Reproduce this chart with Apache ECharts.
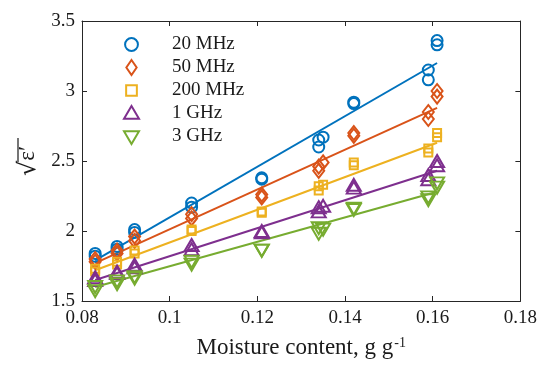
<!DOCTYPE html>
<html>
<head>
<meta charset="utf-8">
<script src="https://cdn.jsdelivr.net/npm/echarts@6/dist/echarts.min.js"></script>
<style>html,body{margin:0;padding:0;background:#fff;}#c{width:540px;height:365px;}</style>
</head>
<body>
<div id="c"></div>
<script>
// Moisture content (g g^-1) for each measured sample
var moisture = [0.083,0.083,0.088,0.088,0.092,0.092,0.105,0.105,0.121,0.121,0.134,0.134,0.135,0.142,0.142,0.159,0.159,0.161,0.161];
// sqrt(eps') values per frequency
var v20MHz  = [1.84,1.82,1.89,1.87,2.01,1.99,2.20,2.17,2.38,2.37,2.60,2.65,2.67,2.92,2.91,3.15,3.08,3.36,3.33];
var v50MHz  = [1.80,1.78,1.86,1.84,1.96,1.93,2.12,2.09,2.26,2.24,2.43,2.46,2.49,2.70,2.68,2.85,2.80,3.00,2.96];
var v200MHz = [1.73,1.71,1.78,1.76,1.86,1.84,2.01,2.00,2.14,2.13,2.32,2.29,2.33,2.49,2.47,2.59,2.56,2.70,2.67];
var v1GHz   = [1.67,1.65,1.71,1.70,1.76,1.74,1.90,1.87,2.00,1.99,2.17,2.14,2.18,2.33,2.31,2.40,2.37,2.50,2.47];
var v3GHz   = [1.60,1.57,1.64,1.62,1.67,1.66,1.78,1.76,1.86,1.86,2.02,1.98,2.01,2.16,2.15,2.24,2.22,2.34,2.31];
// linear fit end points
var fitX   = [0.083, 0.161];
var fit20MHz  = [1.79, 3.20];
var fit50MHz  = [1.77, 2.88];
var fit200MHz = [1.72, 2.63];
var fit1GHz   = [1.65, 2.43];
var fit3GHz   = [1.60, 2.28];
var names = ['20 MHz','50 MHz','200 MHz','1 GHz','3 GHz'];
var xTicks = [0.08,0.10,0.12,0.14,0.16,0.18];
var yTicks = [1.5,2,2.5,3,3.5];

var colors = ['#0072BD','#D95319','#EDB120','#7E2F8E','#77AC30'];
var symbols = ['circle','diamond','rect','triangle','triangle'];
var legendIcons = ['path://M0,0 M1,7 A6,6 0 1,1 13,7 A6,6 0 1,1 1,7 Z M14,14',
  'path://M5.5,0 L11,8 L5.5,16 L0,8 Z',
  'path://M-2,-2 M0,0 L10,0 L10,10 L0,10 Z M12,12',
  'path://M7,0 L14,12 L0,12 Z M7,14','path://M7,-2 M0,0 L14,0 L7,12 Z'];
var sizes = [11,[11,14],8,[14,12],[14,12]];
var rotates = [0,0,0,0,180];
var vals = [v20MHz,v50MHz,v200MHz,v1GHz,v3GHz];
var fits = [fit20MHz,fit50MHz,fit200MHz,fit1GHz,fit3GHz];
var font = 'Liberation Serif';
var axisCol = '#262626';
var textCol = '#1a1a1a';

function pairs(xs, ys){ return xs.map(function(x,i){return [x, ys[i]];}); }

var series = [];
for (var i=0;i<5;i++){
  series.push({
    type:'line', data: pairs(fitX, fits[i]), showSymbol:false, symbol:'none',
    lineStyle:{color:colors[i], width:2}, silent:true, z:2
  });
}
for (var i=0;i<5;i++){
  series.push({
    name: names[i], type:'scatter', data: pairs(moisture, vals[i]),
    symbol: symbols[i], symbolSize: sizes[i], symbolRotate: rotates[i],
    itemStyle:{color:'rgba(255,255,255,0)', borderColor:colors[i], borderWidth:2, opacity:1},
    z:3
  });
}

var axisCommon = {
  axisLine:{show:true, lineStyle:{color:axisCol, width:1}},
  axisTick:{show:true, inside:true, length:5, lineStyle:{color:axisCol, width:1}},
  splitLine:{show:false}
};

var chart = echarts.init(document.getElementById('c'), null, {renderer:'canvas'});
chart.setOption({
  animation:false,
  color: colors,
  grid:{left:82, right:19, top:21, bottom:64, containLabel:false},
  legend:{
    data: names.map(function(n,i){
      return {name:n, icon: legendIcons[i], itemStyle:{color:'rgba(255,255,255,0)', borderColor:colors[i], borderWidth:2}};
    }),
    orient:'vertical', left:118, top:30, itemWidth:15, itemHeight:15, itemGap:4,
    textStyle:{fontFamily:font, fontSize:19, color:textCol, padding:[0,0,0,28]}
  },
  graphic:[{type:'line', shape:{x1:18, y1:138, x2:18, y2:162}, style:{stroke:textCol, lineWidth:1.2}, silent:true}],
  xAxis:[
    Object.assign({type:'value', min:xTicks[0], max:xTicks[xTicks.length-1], interval:0.02, position:'bottom',
      axisLabel:{fontFamily:font, fontSize:19, color:textCol, margin:8, formatter:function(v){return String(+v.toFixed(2));}},
      name:'{t|Moisture content, g g}{s|-1}', nameLocation:'middle', nameGap:35,
      nameTextStyle:{rich:{t:{fontFamily:font, fontSize:23, color:textCol}, s:{fontFamily:font, fontSize:14, color:textCol, verticalAlign:'top', padding:[0,0,10,1]}}}
    }, axisCommon),
    Object.assign({type:'value', min:xTicks[0], max:xTicks[xTicks.length-1], interval:0.02, position:'top', axisLabel:{show:false}}, axisCommon)
  ],
  yAxis:[
    Object.assign({type:'value', min:yTicks[0], max:yTicks[yTicks.length-1], interval:0.5, position:'left',
      axisLabel:{fontFamily:font, fontSize:19, color:textCol, margin:7},
      name:'{r|√}{e|ε′}', nameLocation:'middle', nameGap:40, nameRotate:90,
      nameTextStyle:{rich:{r:{fontFamily:'DejaVu Serif', fontSize:24, color:textCol}, e:{fontFamily:font, fontSize:23, color:textCol}}}
    }, axisCommon),
    Object.assign({type:'value', min:yTicks[0], max:yTicks[yTicks.length-1], interval:0.5, position:'right', axisLabel:{show:false}}, axisCommon)
  ],
  series: series
});
</script>
</body>
</html>
